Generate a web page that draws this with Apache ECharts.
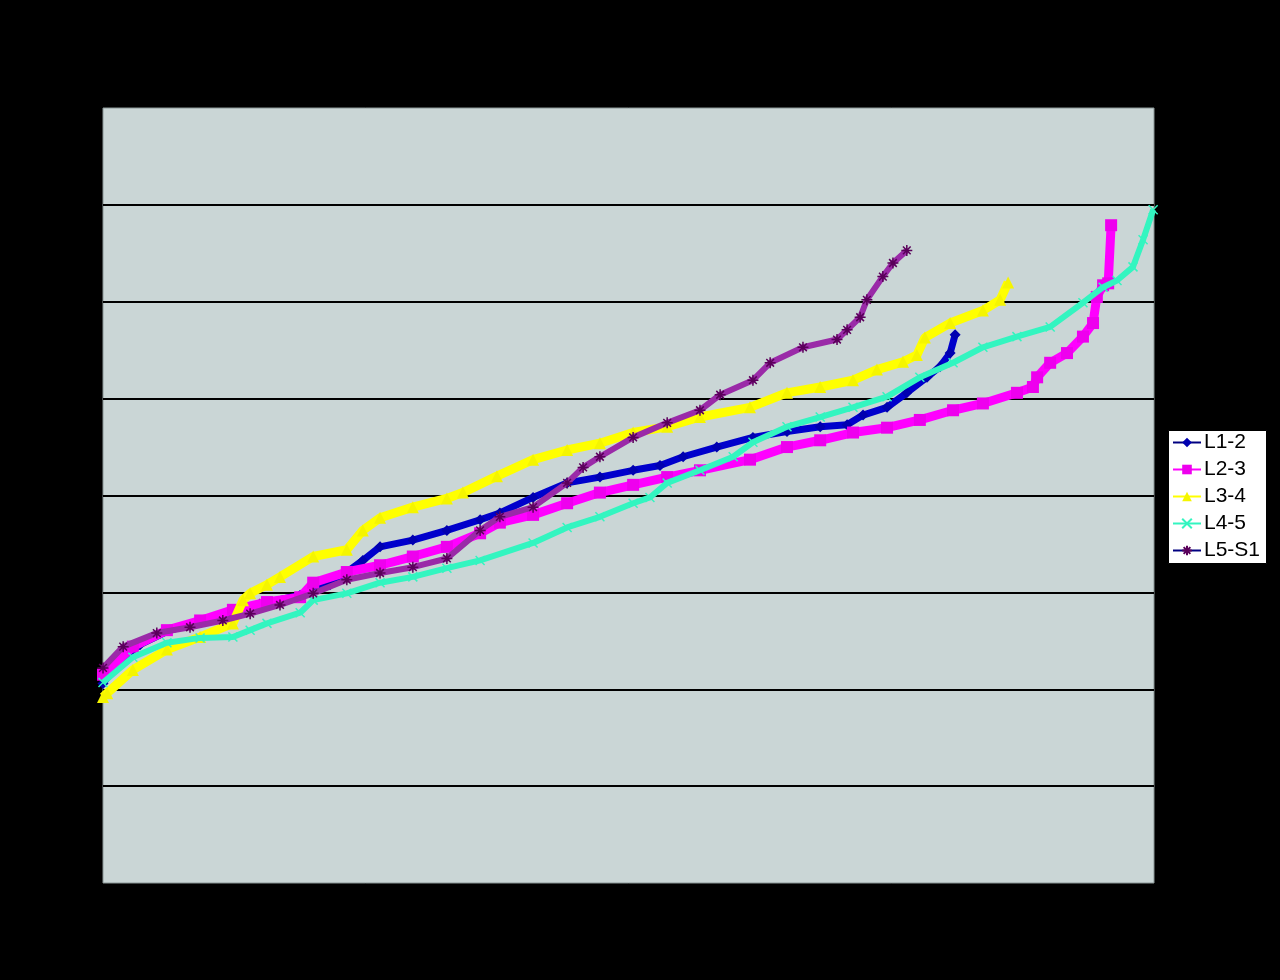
<!DOCTYPE html>
<html>
<head>
<meta charset="utf-8">
<script src="https://cdn.jsdelivr.net/npm/echarts@6/dist/echarts.min.js"></script>
<style>
html,body{margin:0;padding:0;background:#000;}
#chart{width:1280px;height:980px;}
</style>
</head>
<body>
<div id="chart"></div>
<script>
// Series names
var seriesNames = ['L1-2', 'L2-3', 'L3-4', 'L4-5', 'L5-S1'];

// Data: [rank, value]
var dataL12 = [[0,2.06],[4,2.30],[8.8,2.46],[15.9,2.61],[23.1,2.69],[30.2,2.80],[37.3,2.88],[46.9,2.97],[54,3.08],[61.8,3.33],[65.9,3.47],[73.7,3.54],[81.8,3.64],[89.7,3.75],[94.4,3.82],[102.3,3.98],[110.4,4.13],[118.2,4.19],[126.1,4.26],[132.5,4.31],[138,4.40],[146,4.50],[154.6,4.60],[162.7,4.66],[170.6,4.71],[177,4.73],[180.8,4.83],[186.5,4.91],[191.2,5.06],[196,5.22],[199.1,5.33],[201.5,5.47],[202.7,5.66]];

var dataL23 = [[0,2.15],[7.1,2.44],[15.2,2.61],[23.1,2.71],[30.9,2.82],[39,2.90],[46.9,2.95],[50,3.10],[58,3.21],[65.9,3.28],[73.7,3.37],[81.8,3.47],[89.7,3.61],[94.4,3.72],[102.3,3.80],[110.4,3.92],[118.2,4.03],[126.1,4.11],[134.2,4.19],[142,4.26],[153.9,4.37],[162.7,4.50],[170.6,4.57],[178.4,4.65],[186.5,4.70],[194.3,4.78],[202.2,4.88],[209.3,4.95],[217.4,5.06],[221.2,5.12],[222.2,5.22],[225.3,5.37],[229.3,5.47],[233.1,5.64],[235.5,5.78],[236.4,6.05],[237.9,6.17],[239.1,6.19],[239.8,6.79]];

var dataL34 = [[0,1.92],[1,1.96],[7.1,2.20],[15.2,2.41],[23.1,2.54],[30.9,2.68],[33.3,2.92],[35,2.99],[39,3.08],[42.1,3.16],[50,3.37],[58,3.44],[61.8,3.64],[65.9,3.77],[73.7,3.88],[81.8,3.97],[85.6,4.03],[93.7,4.20],[102.3,4.37],[110.4,4.47],[118.2,4.54],[126.1,4.65],[134.2,4.71],[142,4.81],[153.9,4.91],[162.7,5.06],[170.6,5.12],[178.4,5.19],[184.1,5.30],[190.3,5.38],[193.6,5.45],[195.5,5.63],[201.5,5.78],[209.3,5.91],[213.4,6.02],[215.3,6.20]];

var dataL45 = [[0,2.07],[7.1,2.33],[15.2,2.48],[23.1,2.53],[30.9,2.54],[35,2.61],[39,2.68],[46.9,2.79],[50,2.92],[58,2.99],[65.9,3.10],[73.7,3.16],[81.8,3.25],[89.7,3.33],[102.3,3.51],[110.4,3.67],[118.2,3.78],[126.1,3.92],[130.1,3.98],[134.2,4.13],[142,4.26],[149.9,4.40],[154.6,4.55],[162.7,4.71],[170.6,4.81],[178.4,4.91],[186.5,5.02],[194.3,5.22],[202.2,5.37],[209.3,5.53],[217.4,5.64],[225.3,5.74],[233.1,5.99],[237.9,6.15],[241.2,6.22],[245,6.36],[247.4,6.64],[249.8,6.95]];

var dataL5S1 = [[0,2.22],[4.8,2.44],[12.8,2.58],[20.7,2.64],[28.5,2.71],[35,2.78],[42.1,2.87],[50,2.99],[58,3.13],[65.9,3.20],[73.7,3.26],[81.8,3.35],[89.7,3.64],[94.4,3.78],[102.3,3.88],[110.4,4.13],[114.2,4.29],[118.2,4.40],[126.1,4.60],[134.2,4.75],[142,4.88],[146.8,5.04],[154.6,5.19],[158.7,5.37],[166.5,5.53],[174.6,5.61],[177,5.71],[180.1,5.84],[181.7,6.02],[185.5,6.26],[187.9,6.40],[191.2,6.53]];

var allData = [dataL12, dataL23, dataL34, dataL45, dataL5S1];
var lineColors = ['#0000CC', '#FF00FF', '#FFFF00', '#33F5C0', '#9A2AA8'];
var markColors = ['#0000B0', '#EE00EE', '#F5F500', '#33F5C0', '#5A005A'];
var symbols = [
  'diamond',
  'rect',
  'triangle',
  'path://M0,0 L10,10 M10,0 L0,10',
  'path://M5,0 L5,10 M0,5 L10,5 M1.5,1.5 L8.5,8.5 M8.5,1.5 L1.5,8.5'
];
var symSizes = [11, 12, 12, 9, 11];
var lineWidths = [7, 9, 9, 6, 6];

var chart = echarts.init(document.getElementById('chart'));
var series = seriesNames.map(function (name, i) {
  var pathSym = i >= 3;
  return {
    name: name,
    type: 'line',
    data: allData[i],
    symbol: symbols[i],
    symbolSize: symSizes[i],
    showSymbol: true,
    lineStyle: { color: lineColors[i], width: lineWidths[i] },
    itemStyle: pathSym
      ? { color: markColors[i], borderColor: markColors[i], borderWidth: 1.5 }
      : { color: markColors[i], borderWidth: 0 },
    emphasis: { disabled: true },
    animation: false,
    z: 2 + i
  };
});

chart.setOption({
  backgroundColor: '#000000',
  animation: false,
  grid: {
    left: 103, top: 108, width: 1051, height: 775,
    show: true, backgroundColor: '#CAD6D6', borderColor: '#8A9696', borderWidth: 1
  },
  graphic: [{
    type: 'rect', left: 1168, top: 430, z: 0,
    shape: { width: 98, height: 133 },
    style: { fill: '#FFFFFF', stroke: '#000000', lineWidth: 1 }
  }],
  legend: {
    orient: 'vertical',
    left: 1168, top: 430, z: 10,
    padding: [2, 4, 2, 4],
    itemWidth: 28, itemHeight: 12, itemGap: 6,
    textStyle: { fontFamily: 'Liberation Sans, Arial, sans-serif', fontSize: 21, lineHeight: 21, color: '#000000', padding: [0, 0, 0, -2] },
    data: seriesNames.map(function (n, i) {
      return { name: n, itemStyle: { color: markColors[i] }, lineStyle: { color: i === 0 || i === 4 ? '#000080' : lineColors[i], width: 2 } };
    })
  },
  xAxis: {
    type: 'value', min: 0, max: 250,
    axisLine: { show: false }, axisTick: { show: false },
    axisLabel: { show: false }, splitLine: { show: false }
  },
  yAxis: {
    type: 'value', min: 0, max: 8, interval: 1,
    axisLine: { show: false }, axisTick: { show: false },
    axisLabel: { show: false },
    splitLine: {
      show: true,
      lineStyle: {
        color: ['rgba(0,0,0,0)', '#000', '#000', '#000', '#000', '#000', '#000', '#000', 'rgba(0,0,0,0)'],
        width: 2
      }
    }
  },
  series: series
});
</script>
</body>
</html>
